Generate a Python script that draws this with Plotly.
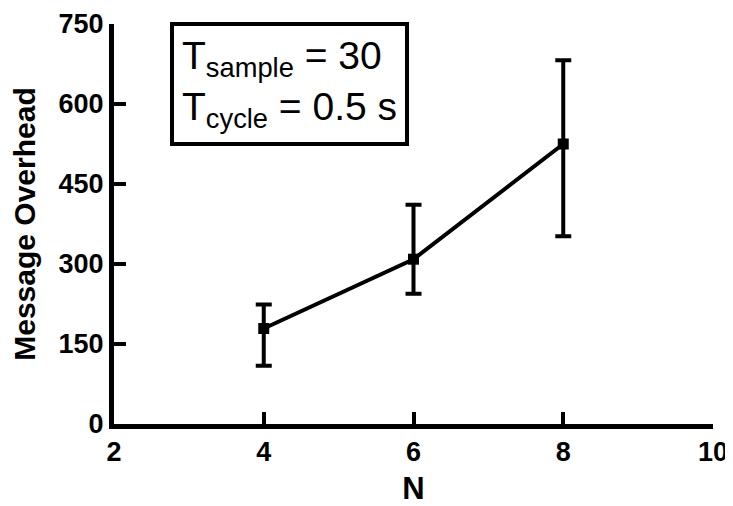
import plotly.graph_objects as go

N = [4, 6, 8]
overhead = [179, 309, 525]
err_plus = [45, 102, 157]
err_minus = [70, 65, 173]

x_ticks = [2, 4, 6, 8, 10]
y_ticks = [0, 150, 300, 450, 600, 750]

FONT = "Liberation Sans, Arial, sans-serif"

fig = go.Figure()
fig.add_trace(go.Scatter(
    x=N, y=overhead, mode="lines+markers",
    line=dict(color="black", width=4),
    marker=dict(symbol="square", size=11, color="black"),
    error_y=dict(type="data", symmetric=False, array=err_plus, arrayminus=err_minus,
                 color="black", thickness=4, width=8),
    showlegend=False,
))

fig.add_annotation(
    x=0.093, y=1.005, xref="paper", yref="paper", xanchor="left", yanchor="top",
    text="T<sub>sample</sub> = 30<br>T<sub>cycle</sub> = 0.5 s",
    showarrow=False, align="left",
    font=dict(family=FONT, size=39, color="black"),
    bordercolor="black", borderwidth=4, borderpad=8, bgcolor="white",
)

# page body has an 8px default margin, so the figure is sized to fit the window
fig.update_layout(
    width=725, height=498,
    margin=dict(l=106, r=20, t=16, b=82),
    paper_bgcolor="white", plot_bgcolor="white",
    font=dict(family=FONT, color="black"),
)
fig.update_xaxes(
    range=[2, 10], tickvals=x_ticks, ticktext=[str(v) for v in x_ticks],
    showline=True, linecolor="black", linewidth=5, showgrid=False, zeroline=False,
    ticks="inside", ticklen=12, tickwidth=4, tickcolor="black",
    tickfont=dict(family=FONT, size=27, color="black", weight="bold"),
    title=dict(text="<b>N</b>", font=dict(family=FONT, size=31, color="black"), standoff=18),
    automargin=False,
)
fig.update_yaxes(
    range=[0, 750], tickvals=y_ticks, ticktext=[str(v) for v in y_ticks],
    showline=True, linecolor="black", linewidth=5, showgrid=False, zeroline=False,
    ticks="inside", ticklen=12, tickwidth=4, tickcolor="black",
    tickfont=dict(family=FONT, size=27, color="black", weight="bold"),
    title=dict(text="<b>Message Overhead</b>", font=dict(family=FONT, size=30, color="black"), standoff=16),
    automargin=False,
)

fig.write_html("out.html")
